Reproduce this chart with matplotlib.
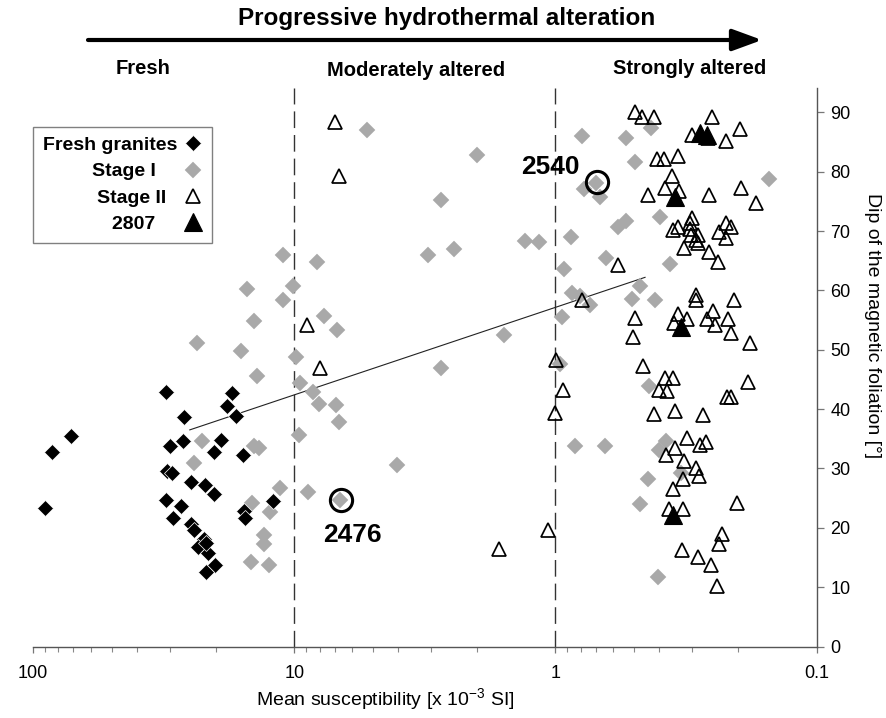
import matplotlib
matplotlib.use('Agg')
import matplotlib.pyplot as plt
from matplotlib.ticker import FixedLocator, LogLocator, NullFormatter

plt.rcParams['font.family'] = ['Liberation Sans', 'DejaVu Sans']

# ---------------- data ----------------
fresh_x = [31.0, 17.3, 18.1, 26.4, 16.7, 71.8, 84.8, 26.7, 29.8, 19.1, 20.3, 15.7,
           30.7, 29.4, 24.8, 22.0, 20.3, 30.9, 27.2, 90.0, 29.1, 15.6, 15.5, 12.1,
           24.8, 24.1, 22.2, 23.4, 21.3, 20.1, 21.8, 21.8]
fresh_y = [42.8, 42.7, 40.6, 38.7, 38.8, 35.5, 32.8, 34.7, 33.8, 34.8, 32.8, 32.3,
           29.6, 29.2, 27.7, 27.2, 25.7, 24.7, 23.7, 23.3, 21.7, 22.8, 21.6, 24.5,
           20.6, 19.6, 18.1, 16.8, 15.7, 13.7, 12.6, 17.4]

stage1_x = [11.0, 15.2, 10.15, 11.0, 14.3, 23.5, 16.0, 9.84, 13.9, 9.5, 9.63, 22.5,
            14.3, 13.6, 24.3, 11.3, 14.5, 12.4, 13.0, 13.0, 14.6, 12.5, 8.2, 7.67,
            6.84, 8.45, 8.05, 6.9, 6.76, 8.85, 6.66, 5.25, 2.0, 2.75, 3.07, 2.45,
            1.31, 1.16, 1.58, 2.74, 4.05, 0.794, 0.777, 0.875, 0.931, 0.864, 0.805,
            0.737, 0.947, 0.964, 0.845, 0.646, 0.537, 0.432, 0.494, 0.699, 0.677,
            0.152, 0.577, 0.537, 0.398, 0.638, 0.364, 0.474, 0.508, 0.416, 0.44,
            0.377, 0.402, 0.331, 0.441, 0.474, 0.406]
stage1_y = [66.0, 60.2, 60.8, 58.3, 54.8, 51.1, 49.8, 48.7, 45.6, 44.4, 35.6, 34.7,
            33.7, 33.5, 31.0, 26.7, 24.2, 22.7, 18.8, 17.2, 14.2, 13.7, 64.7, 55.7,
            53.4, 42.8, 40.9, 40.7, 37.9, 26.0, 24.7, 87.1, 82.8, 75.2, 66.0, 67.0,
            68.3, 68.2, 52.5, 46.9, 30.6, 86.0, 77.0, 69.0, 63.6, 59.5, 59.1,
            57.6, 55.5, 47.6, 33.7, 33.7, 85.6, 87.4, 81.7, 78.1, 75.7,
            78.8, 70.7, 71.7, 72.3, 65.5, 64.5, 60.8, 58.6, 58.3, 43.9,
            34.7, 33.1, 29.3, 28.2, 24.0, 11.7]

stage2_x = [7.0, 6.72, 8.91, 8.0, 0.793, 0.995, 0.933, 1.0, 1.07, 1.65,
            0.494, 0.466, 0.42, 0.252, 0.197, 0.300, 0.261, 0.223, 0.409, 0.384,
            0.34, 0.358, 0.442, 0.38, 0.336, 0.258, 0.195, 0.171, 0.300, 0.305,
            0.354, 0.34, 0.305, 0.303, 0.285, 0.291, 0.284, 0.321, 0.258, 0.223,
            0.212, 0.237, 0.222, 0.239, 0.574, 0.291, 0.29, 0.208, 0.494, 0.503,
            0.341, 0.351, 0.314, 0.249, 0.264, 0.245, 0.218, 0.213, 0.18, 0.462,
            0.381, 0.356, 0.184, 0.40, 0.373, 0.221, 0.212, 0.42, 0.35, 0.272,
            0.314, 0.348, 0.378, 0.28, 0.265, 0.323, 0.29, 0.282, 0.325, 0.355,
            0.202, 0.367, 0.324, 0.23, 0.236, 0.329, 0.284, 0.254, 0.241]
stage2_y = [88.3, 79.2, 54.2, 46.9, 58.4, 48.2, 43.2, 39.3, 19.6, 16.4,
            90.1, 89.2, 89.2, 89.2, 87.2, 86.2, 85.6, 85.1, 82.1, 82.1,
            82.7, 79.2, 76.1, 77.3, 76.7, 76.1, 77.2, 74.8, 72.2, 71.3,
            70.1, 70.6, 70.3, 69.3, 69.3, 68.5, 68.0, 67.2, 66.5, 71.3,
            70.7, 69.8, 68.8, 64.7, 64.3, 59.2, 58.4, 58.3, 55.3, 52.2,
            56.1, 54.5, 55.1, 56.6, 55.1, 54.2, 55.1, 52.9, 51.2, 47.2,
            45.2, 45.2, 44.6, 43.2, 43.1, 42.1, 42.1, 39.2, 39.7, 39.0,
            35.2, 33.5, 32.2, 34.0, 34.5, 31.3, 30.1, 28.7, 28.2, 26.5,
            24.1, 23.2, 23.1, 18.9, 17.2, 16.3, 15.0, 13.7, 10.2]

s2807_x = [0.28, 0.264, 0.348, 0.331, 0.354]
s2807_y = [86.5, 86.2, 75.7, 53.9, 22.2]

trend_x = [25.1, 0.454]
trend_y = [36.5, 62.2]

boundary_x = [10, 1]

sample_names = ['2540', '2476']
sample_x = [0.695, 6.62]
sample_y = [78.3, 24.6]

xticks = [100, 10, 1, 0.1]
xtick_labels = ['100', '10', '1', '0.1']
yticks = [0, 10, 20, 30, 40, 50, 60, 70, 80, 90]

zone_labels = ['Fresh', 'Moderately altered', 'Strongly altered']

# ---------------- figure ----------------
W, H = 887, 718
fig = plt.figure(figsize=(W / 100, H / 100), dpi=100)
ax = fig.add_axes([33 / W, 1 - 646.5 / H, (816.7 - 33) / W, (646.5 - 88) / H])

gray = '#a9a9a9'
h1, = ax.plot(stage1_x, stage1_y, ls='none', marker='D', ms=8.4, mfc=gray, mec=gray,
              mew=0.3, label='Stage I', zorder=3)
h0, = ax.plot(fresh_x, fresh_y, ls='none', marker='D', ms=8.4, mfc='black', mec='white',
              mew=0.5, label='Fresh granites', zorder=4)
h2, = ax.plot(stage2_x, stage2_y, ls='none', marker='^', ms=10, mfc='none', mec='black',
              mew=1.25, label='Stage II', zorder=5)
h3, = ax.plot(s2807_x, s2807_y, ls='none', marker='^', ms=12.5, mfc='black', mec='black',
              mew=0.8, label='2807', zorder=6)

ax.plot(trend_x, trend_y, color='#222222', lw=0.8, zorder=2)

for bx in boundary_x:
    ax.axvline(bx, color='#333333', lw=1.0, ls=(0, (12, 5)), zorder=1)

ax.plot(sample_x, sample_y, ls='none', marker='o', ms=16, mfc='none', mec='black',
        mew=2.2, zorder=7)
ax.annotate(sample_names[0], (sample_x[0], sample_y[0]), xytext=(-12, 10.5),
            textcoords='offset points', ha='right', va='center', fontsize=19,
            fontweight='bold', zorder=8)
ax.annotate(sample_names[1], (sample_x[1], sample_y[1]), xytext=(8, -25),
            textcoords='offset points', ha='center', va='center', fontsize=19,
            fontweight='bold', zorder=8)

ax.set_xscale('log')
ax.set_xlim(100, 0.1)
ax.set_ylim(0, 94.1)

ax.xaxis.set_major_locator(FixedLocator(xticks))
ax.set_xticklabels(xtick_labels)
ax.xaxis.set_minor_locator(LogLocator(base=10, subs=[2, 3, 4, 5, 6, 7, 8, 9]))
ax.xaxis.set_minor_formatter(NullFormatter())
ax.set_yticks(yticks)

ax.yaxis.tick_right()
ax.yaxis.set_label_position('right')
for s in ['top', 'left']:
    ax.spines[s].set_visible(False)
for s in ['bottom', 'right']:
    ax.spines[s].set_color('#555555')
    ax.spines[s].set_linewidth(1.0)

ax.tick_params(axis='x', which='major', direction='out', length=4, width=0.9,
               color='#777777', labelsize=13, pad=9)
ax.tick_params(axis='x', which='minor', direction='out', length=3.5, width=0.8,
               color='#888888')
ax.tick_params(axis='y', which='major', direction='out', length=5, width=0.9,
               color='#777777', labelsize=13, pad=5)

ax.set_xlabel('Mean susceptibility [x 10$^{\\mathregular{-3}}$ SI]', fontsize=14,
              va='center', ha='center')
ax.xaxis.set_label_coords((385 - 33) / 783.7, -(700 - 646.5) / 558.5)
ax.set_ylabel('Dip of the magnetic foliation [°]', fontsize=14, rotation=270,
              va='center', ha='center')
ax.yaxis.set_label_coords((873 - 33) / 783.7, (646.5 - 326) / 558.5)

leg = ax.legend(handles=[h0, h1, h2, h3],
                labels=['Fresh granites', 'Stage I    ', 'Stage II  ', '2807    '],
                loc='upper left', bbox_to_anchor=(0.0, (646.5 - 126.7) / 558.5),
                borderaxespad=0, markerfirst=False, frameon=True, fancybox=False,
                prop={'weight': 'bold', 'size': 14}, handlelength=1.0,
                handletextpad=0.3, labelspacing=0.45, borderpad=0.5,
                edgecolor='#808080', framealpha=1)
leg.get_frame().set_linewidth(1.0)

# ---------------- header ----------------
fig.text(447 / W, 1 - 18 / H, 'Progressive hydrothermal alteration', ha='center',
         va='center', fontsize=17.5, fontweight='bold')
ax.annotate('', xy=(762 / W, 1 - 40 / H), xytext=(88 / W, 1 - 40 / H),
            xycoords='figure fraction', textcoords='figure fraction',
            arrowprops=dict(arrowstyle='-|>,head_length=0.9,head_width=0.33',
                            lw=3, color='black', mutation_scale=20,
                            shrinkA=0, shrinkB=0))
zone_px = [(143.5, 68), (416, 71), (690, 68)]
for name, (px, py) in zip(zone_labels, zone_px):
    fig.text(px / W, 1 - py / H, name, ha='center', va='center', fontsize=14.5,
             fontweight='bold')

fig.savefig('out.png', dpi=100)
